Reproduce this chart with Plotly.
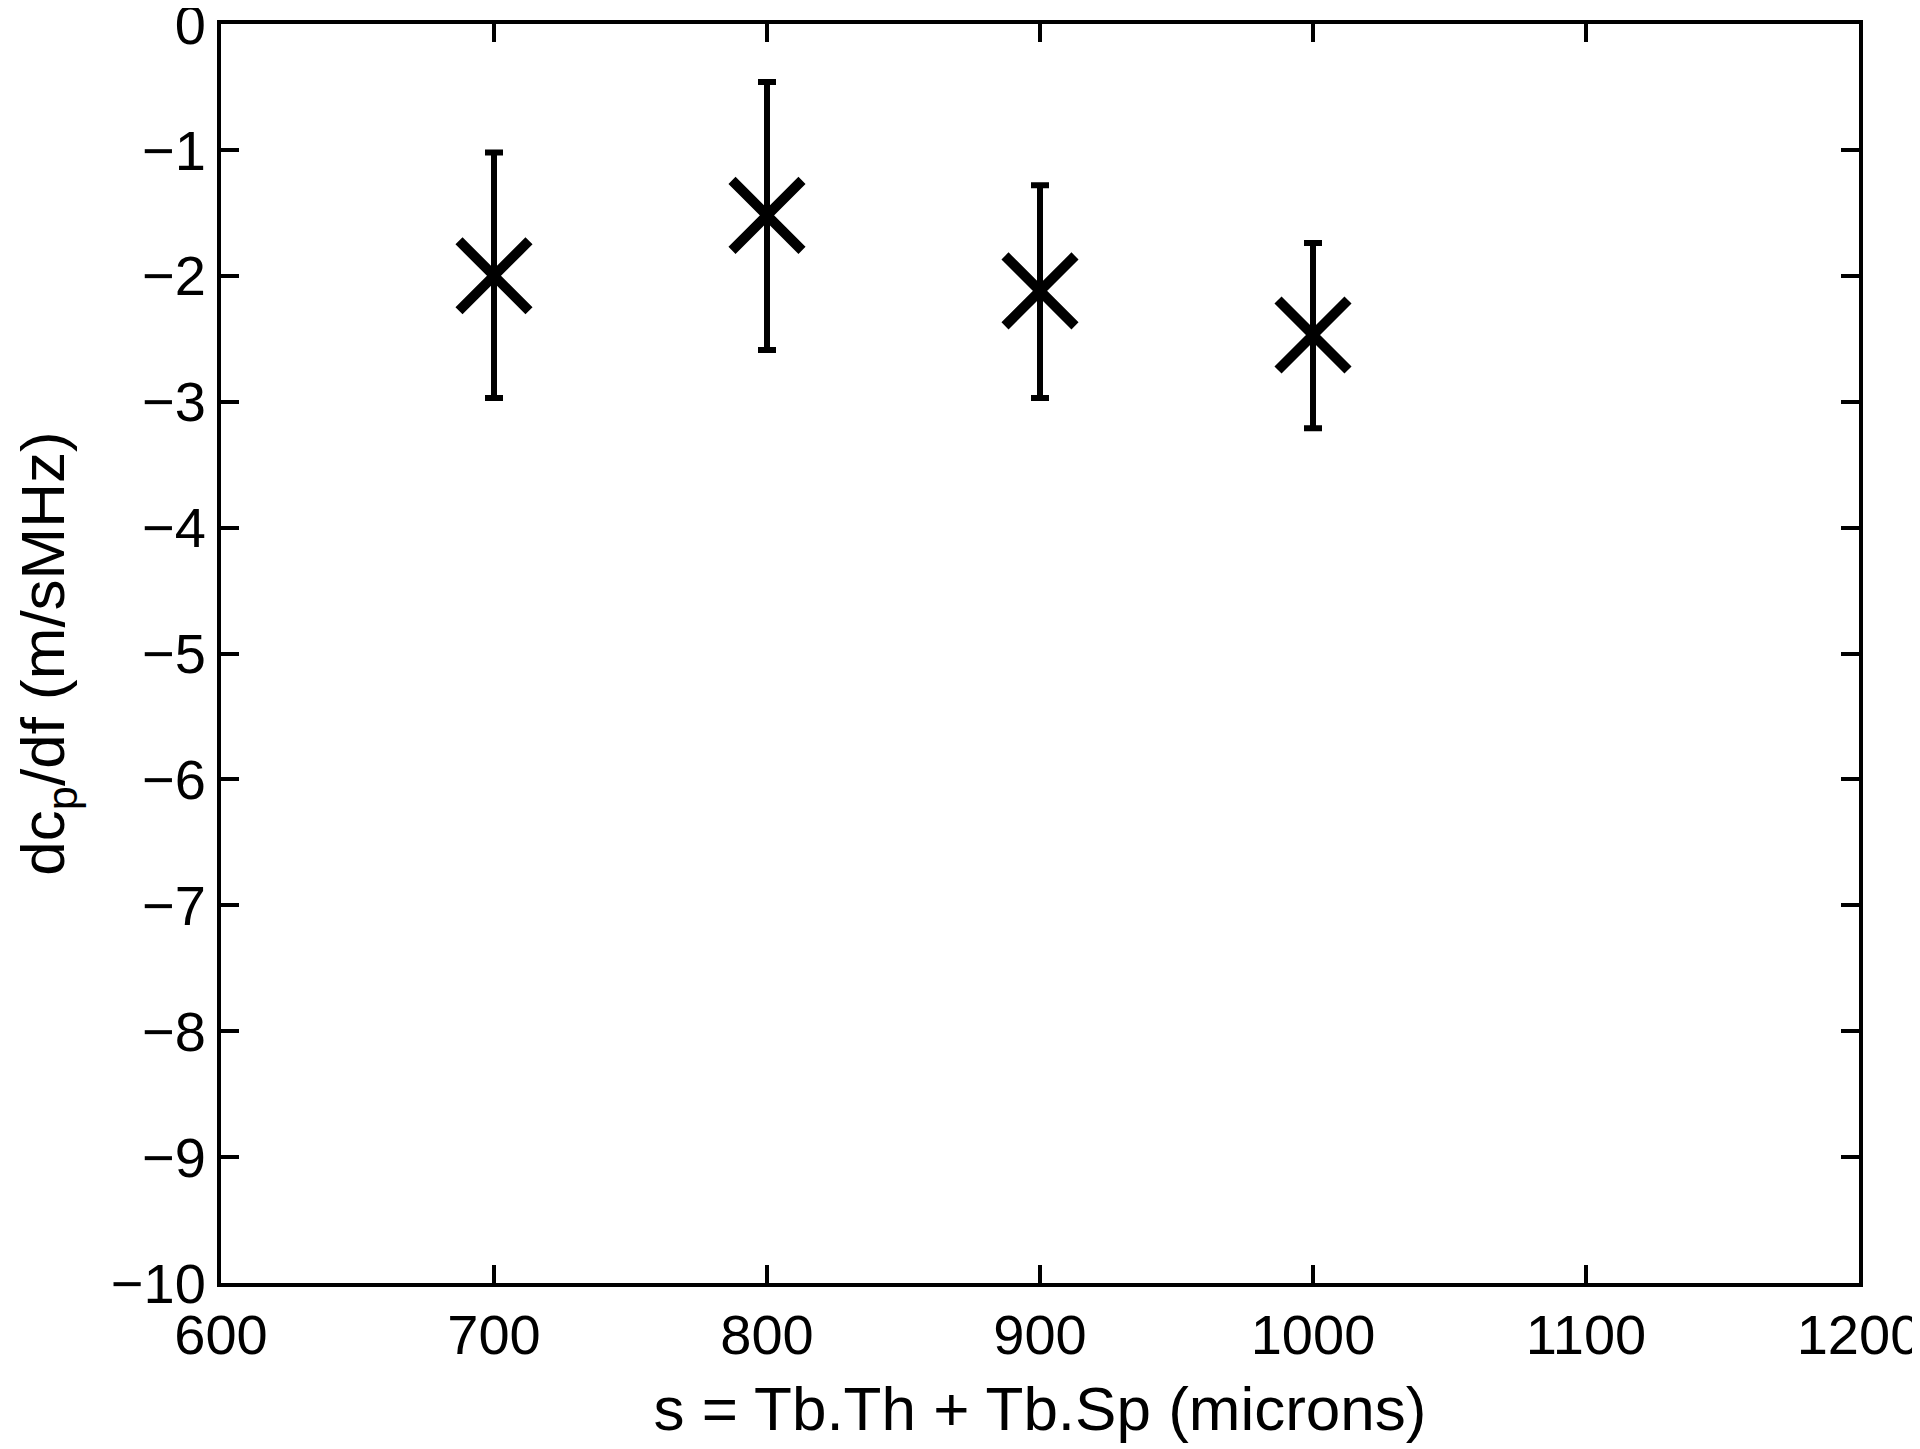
import plotly.graph_objects as go

spacing = [700, 800, 900, 1000]
slope = [-2.0, -1.52, -2.12, -2.47]
slope_upper = [-1.02, -0.46, -1.28, -1.74]
slope_lower = [-2.97, -2.59, -2.97, -3.21]

x_ticks = [600, 700, 800, 900, 1000, 1100, 1200]
y_ticks = [0, -1, -2, -3, -4, -5, -6, -7, -8, -9, -10]

err_plus = [u - v for u, v in zip(slope_upper, slope)]
err_minus = [v - l for v, l in zip(slope, slope_lower)]

FONT = "Liberation Sans, Arial, sans-serif"

fig = go.Figure()
fig.add_trace(
    go.Scatter(
        x=spacing,
        y=slope,
        mode="markers",
        marker={
            "symbol": "x-thin",
            "size": 70,
            "color": "black",
            "line": {"color": "black", "width": 10},
        },
        error_y={
            "type": "data",
            "symmetric": False,
            "array": err_plus,
            "arrayminus": err_minus,
            "color": "black",
            "thickness": 6,
            "width": 9,
        },
        showlegend=False,
    )
)

axis_style = dict(
    showline=True,
    linecolor="black",
    linewidth=4,
    mirror="ticks",
    ticks="inside",
    ticklen=18,
    tickwidth=4,
    tickcolor="black",
    showgrid=False,
    zeroline=False,
    automargin=False,
    ticklabeloverflow="allow",
    tickfont={"family": FONT, "size": 56, "color": "black"},
)

fig.update_xaxes(
    range=[600, 1200],
    tickvals=x_ticks,
    title={"text": "s = Tb.Th + Tb.Sp (microns)", "standoff": 22,
           "font": {"family": FONT, "size": 62, "color": "black"}},
    **axis_style,
)
fig.update_yaxes(
    range=[-10, 0],
    tickvals=y_ticks,
    title={"text": "dc<sub>p</sub>/df (m/sMHz)", "standoff": 35,
           "font": {"family": FONT, "size": 62, "color": "black"}},
    **axis_style,
)

fig.update_layout(
    width=1920,
    height=1449,
    margin={"l": 213, "r": 69, "t": 16, "b": 174},
    plot_bgcolor="white",
    paper_bgcolor="white",
)

fig.write_html("out.html")
